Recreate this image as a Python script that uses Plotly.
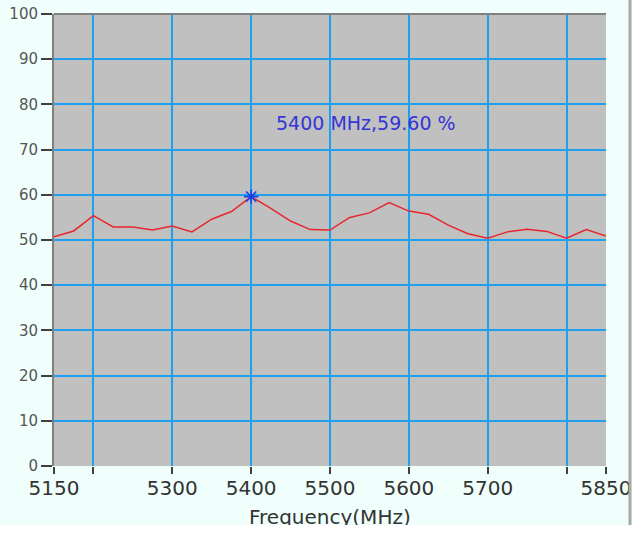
import plotly.graph_objects as go

# Measured efficiency across the 5 GHz band
freq_mhz = [5150, 5175, 5200, 5225, 5250, 5275, 5300, 5325, 5350, 5375,
            5400, 5425, 5450, 5475, 5500, 5525, 5550, 5575, 5600, 5625,
            5650, 5675, 5700, 5725, 5750, 5775, 5800, 5825, 5850]
efficiency = [50.7, 52.0, 55.4, 52.9, 52.9, 52.2, 53.1, 51.8, 54.6, 56.3,
              59.6, 57.0, 54.2, 52.3, 52.2, 55.0, 56.0, 58.3, 56.4, 55.7,
              53.3, 51.4, 50.4, 51.8, 52.4, 51.9, 50.4, 52.3, 50.9]

# Highlighted cursor point
cursor_freq = 5400
cursor_value = 59.60

x_tick_vals = [5150, 5200, 5300, 5400, 5500, 5600, 5700, 5800, 5850]
x_tick_text = ["5150", "", "5300", "5400", "5500", "5600", "5700", "", "5850"]
y_tick_vals = list(range(0, 101, 10))
# grid lines only inside the frame, not on its edges
x_grid_vals = [5200, 5300, 5400, 5500, 5600, 5700, 5800]
y_grid_vals = list(range(10, 100, 10))

X_RANGE = [5150, 5850]
Y_RANGE = [0, 100]
X_TITLE = "Frequency(MHz)"

FONT = "DejaVu Sans"
GRID = "#1f9ff0"

fig = go.Figure()
# empty trace so the grid-only overlay axes get a subplot
fig.add_trace(go.Scatter(x=[], y=[], xaxis="x2", yaxis="y2", showlegend=False))
fig.add_trace(go.Scatter(
    x=freq_mhz, y=efficiency, mode="lines",
    line=dict(color="#e8262e", width=1.5),
    hoverinfo="skip", showlegend=False,
))
fig.add_trace(go.Scatter(
    x=[cursor_freq], y=[cursor_value], mode="markers",
    marker=dict(symbol="asterisk-open", size=12, color="#1a3fe6",
                line=dict(color="#1a3fe6", width=1.6)),
    showlegend=False,
))

fig.add_annotation(
    x=cursor_freq + 29, y=75.9, xref="x", yref="y",
    text=f"{cursor_freq} MHz,{cursor_value:.2f} %",
    showarrow=False, xanchor="left", yanchor="middle",
    font=dict(family=FONT, size=19, color="#3535d8"),
)

# x-axis title, sitting low enough that the panel edge trims it
fig.add_annotation(
    x=0.5, y=-37 / 452, xref="paper", yref="paper",
    text=X_TITLE, showarrow=False, xanchor="center", yanchor="top",
    font=dict(family=FONT, size=20, color="#333333"),
)

# top border of the plot frame and the panel edge on the right
fig.add_shape(type="line", xref="paper", yref="paper", x0=0, x1=1, y0=1, y1=1,
              line=dict(color="#808080", width=2))
fig.add_shape(type="line", xref="paper", yref="paper",
              x0=(630 - 54) / 552, x1=(630 - 54) / 552, y0=-59 / 452, y1=1 + 14 / 452,
              line=dict(color="#a8aaa8", width=3))

fig.update_layout(
    width=632, height=525,
    margin=dict(l=54, r=26, t=14, b=59, autoexpand=False),
    paper_bgcolor="#f0fffb",
    plot_bgcolor="#c0c0c0",
    font=dict(family=FONT),
    xaxis=dict(
        range=X_RANGE, tickmode="array",
        tickvals=x_tick_vals, ticktext=x_tick_text,
        showgrid=False,
        ticks="outside", ticklen=7, tickwidth=2, tickcolor="#404040",
        tickfont=dict(family=FONT, size=20, color="#333333"),
        ticklabelstandoff=-3,
        showline=False, zeroline=False, automargin=False,
    ),
    yaxis=dict(
        range=Y_RANGE, tickmode="array", tickvals=y_tick_vals,
        showgrid=False,
        ticks="outside", ticklen=11, tickwidth=2, tickcolor="#404040",
        tickfont=dict(family=FONT, size=15, color="#555555"),
        showline=True, linecolor="#808080", linewidth=2,
        zeroline=False, automargin=False,
    ),
    xaxis2=dict(
        overlaying="x", range=X_RANGE, tickmode="array", tickvals=x_grid_vals,
        showgrid=True, gridcolor=GRID, gridwidth=2,
        showticklabels=False, ticks="", zeroline=False, showline=False,
        automargin=False,
    ),
    yaxis2=dict(
        overlaying="y", range=Y_RANGE, tickmode="array", tickvals=y_grid_vals,
        showgrid=True, gridcolor=GRID, gridwidth=2,
        showticklabels=False, ticks="", zeroline=False, showline=False,
        automargin=False,
    ),
)

fig.write_html("out.html")
